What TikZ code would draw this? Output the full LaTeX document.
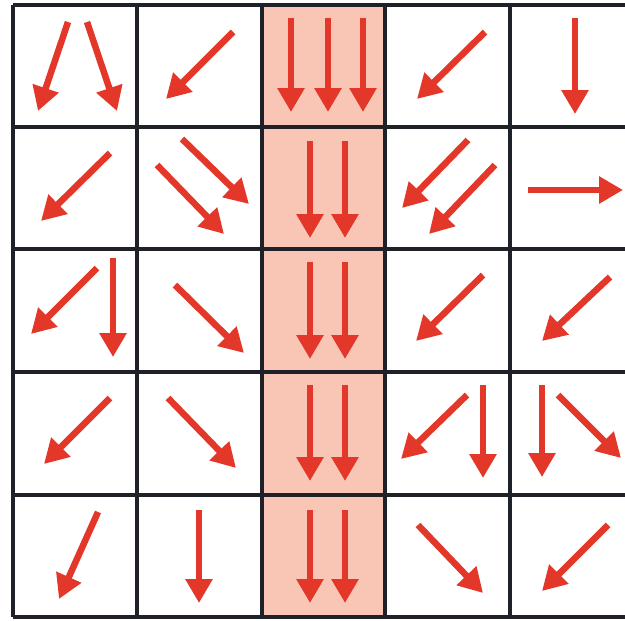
\documentclass[tikz,border=0pt]{standalone}
\usetikzlibrary{arrows.meta}
\definecolor{arrred}{HTML}{E3372A}
\definecolor{colsalmon}{HTML}{F9C6B6}
\definecolor{gridc}{HTML}{1E2228}
\tikzset{
  vec/.style={draw=arrred, line width=6.5pt, -{Triangle[length=24pt,width=26pt]}},
  gridline/.style={draw=gridc, line width=3.5pt},
}
\begin{document}
\begin{tikzpicture}[x=1pt,y=-1pt]
\useasboundingbox (0,0) rectangle (625,621);
\fill[white] (0,0) rectangle (625,621);
% shaded column
\fill[fill=colsalmon] (262,5) rectangle (385,617);
% grid
\foreach \y in {5,127,249,372,495,617} \draw[gridline] (13,\y) -- (625,\y);
\foreach \x in {13,137,262,385,510} \draw[gridline] (\x,5) -- (\x,617);
% row 1
\coordinate (a1s) at (68,22);  \coordinate (a1e) at (38,111);
\coordinate (a2s) at (87,22);  \coordinate (a2e) at (117,111);
\coordinate (a3s) at (233,32); \coordinate (a3e) at (166,99);
\coordinate (a4s) at (291,18); \coordinate (a4e) at (291,112);
\coordinate (a5s) at (328,18); \coordinate (a5e) at (328,112);
\coordinate (a6s) at (363,18); \coordinate (a6e) at (363,112);
\coordinate (a7s) at (485,32); \coordinate (a7e) at (417,99);
\coordinate (a8s) at (575,18); \coordinate (a8e) at (575,114);
% row 2
\coordinate (b1s) at (110,153); \coordinate (b1e) at (41,221);
\coordinate (b2s) at (182,139); \coordinate (b2e) at (249,204);
\coordinate (b3s) at (157,165); \coordinate (b3e) at (224,234);
\coordinate (b4s) at (310,141); \coordinate (b4e) at (310,238);
\coordinate (b5s) at (345,141); \coordinate (b5e) at (345,238);
\coordinate (b6s) at (468,140); \coordinate (b6e) at (402,208);
\coordinate (b7s) at (495,165); \coordinate (b7e) at (429,234);
\coordinate (b8s) at (528,190); \coordinate (b8e) at (623,190);
% row 3
\coordinate (c1s) at (97,268);  \coordinate (c1e) at (31,334);
\coordinate (c2s) at (113,258); \coordinate (c2e) at (113,357);
\coordinate (c3s) at (175,285); \coordinate (c3e) at (244,353);
\coordinate (c4s) at (310,262); \coordinate (c4e) at (310,359);
\coordinate (c5s) at (345,262); \coordinate (c5e) at (345,359);
\coordinate (c6s) at (483,275); \coordinate (c6e) at (416,341);
\coordinate (c7s) at (610,277); \coordinate (c7e) at (542,341);
% row 4
\coordinate (d1s) at (110,398); \coordinate (d1e) at (44,464);
\coordinate (d2s) at (168,398); \coordinate (d2e) at (236,468);
\coordinate (d3s) at (310,385); \coordinate (d3e) at (310,481);
\coordinate (d4s) at (345,385); \coordinate (d4e) at (345,481);
\coordinate (d5s) at (467,395); \coordinate (d5e) at (401,459);
\coordinate (d6s) at (483,385); \coordinate (d6e) at (483,478);
\coordinate (d7s) at (542,385); \coordinate (d7e) at (542,477);
\coordinate (d8s) at (558,395); \coordinate (d8e) at (621,458);
% row 5
\coordinate (e1s) at (98,512);  \coordinate (e1e) at (59,599);
\coordinate (e2s) at (199,510); \coordinate (e2e) at (199,603);
\coordinate (e3s) at (310,510); \coordinate (e3e) at (310,603);
\coordinate (e4s) at (345,510); \coordinate (e4e) at (345,603);
\coordinate (e5s) at (418,525); \coordinate (e5e) at (483,593);
\coordinate (e6s) at (608,525); \coordinate (e6e) at (542,591);
\foreach \n in {a1,a2,a3,a4,a5,a6,a7,a8,b1,b2,b3,b4,b5,b6,b7,b8,c1,c2,c3,c4,c5,c6,c7,d1,d2,d3,d4,d5,d6,d7,d8,e1,e2,e3,e4,e5,e6}
  \draw[vec] (\n s) -- (\n e);
\end{tikzpicture}
\end{document}
